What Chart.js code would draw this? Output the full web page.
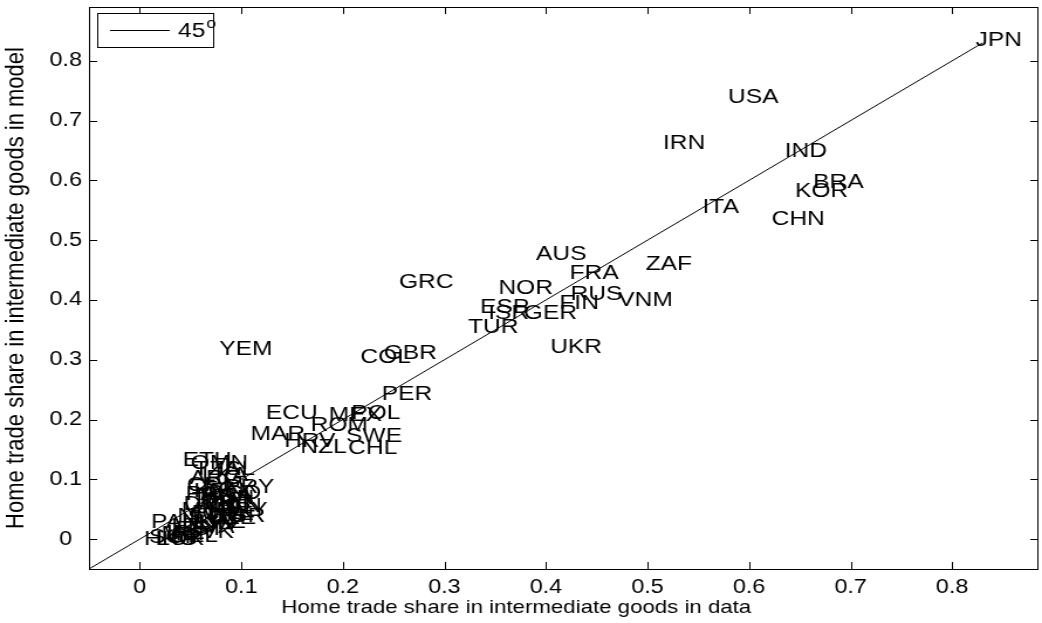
<!DOCTYPE html>
<html>
<head>
<meta charset="utf-8">
<script src="https://cdn.jsdelivr.net/npm/chart.js@4/dist/chart.umd.min.js"></script>
<style>
  html, body { margin: 0; padding: 0; background: #fff; overflow: hidden; }
  #c { display: block; width: 1042px !important; height: 623px !important; }
</style>
</head>
<body>
<canvas id="c" width="890" height="623"></canvas>
<script>
// ---- data ----
const countries = [
  'JPN','USA','IRN','IND','BRA','KOR','ITA','CHN','AUS','ZAF','FRA','GRC','NOR','RUS','FIN','VNM',
  'ESP','ISR','GER','TUR','UKR','YEM','COL','GBR','PER','ECU','MEX','POL','ROM','MAR','SWE','HRV','NZL','CHL',
  'ETH','OMN','TZA','ISL','ARG','LKA','CRI','PRY','KEN','EGY','PAK','NGA','BGD','IDN','THA','PRT','DNK','AUT',
  'CAN','URY','MYS','PHL','CHE','NLD','SVN','KAZ','CZE','BGR','HUN','LTU','LVA','EST','SVK','IRL','BEL','PAN',
  'MLT','SGP','LUX','HKG'
];
const dataShare = [
  0.822,0.578,0.514,0.634,0.662,0.644,0.553,0.621,0.389,0.497,0.422,0.254,0.352,0.423,0.412,0.470,
  0.334,0.342,0.377,0.322,0.403,0.077,0.216,0.239,0.237,0.123,0.185,0.207,0.167,0.108,0.202,0.141,0.157,0.204,
  0.041,0.049,0.052,0.076,0.048,0.060,0.045,0.082,0.052,0.060,0.044,0.058,0.066,0.070,0.050,0.062,0.042,0.055,
  0.068,0.074,0.040,0.050,0.060,0.036,0.046,0.056,0.065,0.070,0.040,0.030,0.050,0.035,0.043,0.025,0.030,0.010,
  0.020,0.008,0.015,0.003
];
const modelShare = [
  0.836,0.740,0.664,0.651,0.598,0.584,0.556,0.536,0.479,0.462,0.446,0.431,0.421,0.412,0.397,0.401,
  0.389,0.379,0.379,0.356,0.322,0.319,0.306,0.312,0.244,0.212,0.209,0.212,0.192,0.177,0.174,0.165,0.155,0.154,
  0.133,0.128,0.119,0.118,0.104,0.108,0.092,0.088,0.082,0.085,0.076,0.074,0.078,0.070,0.066,0.062,0.060,0.055,
  0.056,0.050,0.050,0.045,0.043,0.040,0.036,0.030,0.036,0.040,0.028,0.024,0.022,0.018,0.014,0.012,0.006,0.030,
  0.010,0.005,0.002,0.002
];
const lineEnds = [-0.05, 0.83];          // 45-degree reference line
const xTicks = [0, 0.1, 0.2, 0.3, 0.4, 0.5, 0.6, 0.7, 0.8];
const yTicks = [0, 0.1, 0.2, 0.3, 0.4, 0.5, 0.6, 0.7, 0.8];
const xTitle = 'Home trade share in intermediate goods in data';
const yTitle = 'Home trade share in intermediate goods in model';
const legendLabel = '45';

const FONT = "'Liberation Sans', Arial, Helvetica, sans-serif";

const points = countries.map((c, i) => ({ x: dataShare[i], y: modelShare[i], name: c }));

const framePlugin = {
  id: 'frame',
  afterDatasetsDraw(chart) {
    const ctx = chart.ctx;
    const { left, right, top, bottom } = chart.chartArea;
    const xs = chart.scales.x, ys = chart.scales.y;
    ctx.save();
    // country labels
    ctx.fillStyle = '#000';
    ctx.font = '21px ' + FONT;
    ctx.textAlign = 'left';
    ctx.textBaseline = 'middle';
    points.forEach(p => {
      ctx.fillText(p.name, xs.getPixelForValue(p.x) + 1, ys.getPixelForValue(p.y) + 1);
    });
    // box
    ctx.strokeStyle = '#000';
    ctx.lineWidth = 1;
    ctx.strokeRect(Math.round(left) + 0.5, Math.round(top) + 0.5, Math.round(right - left) - 1, Math.round(bottom - top));
    // inward ticks
    ctx.beginPath();
    xTicks.forEach(v => {
      const px = Math.round(xs.getPixelForValue(v)) + 0.5;
      ctx.moveTo(px, bottom); ctx.lineTo(px, bottom - 7);
      ctx.moveTo(px, top); ctx.lineTo(px, top + 7);
    });
    yTicks.forEach(v => {
      const py = Math.round(ys.getPixelForValue(v)) + 0.5;
      ctx.moveTo(left, py); ctx.lineTo(left + 7, py);
      ctx.moveTo(right, py); ctx.lineTo(right - 7, py);
    });
    ctx.stroke();
    // x-axis title
    ctx.font = '19px ' + FONT;
    ctx.textAlign = 'center';
    ctx.textBaseline = 'middle';
    ctx.fillText(xTitle, 441, 608);
    // legend box
    const lx = 83, ly = 13, lw = 99, lh = 34;
    ctx.fillStyle = '#fff';
    ctx.fillRect(lx, ly, lw, lh);
    ctx.strokeRect(lx + 0.5, ly + 0.5, lw, lh);
    ctx.beginPath();
    ctx.moveTo(94, ly + lh / 2 + 0.5); ctx.lineTo(145, ly + lh / 2 + 0.5);
    ctx.stroke();
    ctx.fillStyle = '#000';
    ctx.textAlign = 'left';
    ctx.font = '21px ' + FONT;
    ctx.fillText(legendLabel, 152, ly + lh / 2 + 1);
    const w45 = ctx.measureText(legendLabel).width;
    ctx.font = '15px ' + FONT;
    ctx.fillText('o', 152 + w45 + 1, ly + lh / 2 - 6);
    ctx.restore();
  }
};

const chart = new Chart(document.getElementById('c'), {
  type: 'scatter',
  data: {
    datasets: [
      {
        label: 'countries',
        data: points,
        pointRadius: 0,
        pointHoverRadius: 0,
        showLine: false
      },
      {
        label: '45',
        type: 'line',
        data: lineEnds.map(v => ({ x: v, y: v })),
        borderColor: '#000',
        borderWidth: 1,
        pointRadius: 0,
        fill: false
      }
    ]
  },
  options: {
    responsive: false,
    animation: false,
    devicePixelRatio: 1,
    layout: { padding: { top: 7, right: 3, left: 0, bottom: 0 } },
    plugins: { legend: { display: false }, tooltip: { enabled: false } },
    events: [],
    scales: {
      x: {
        type: 'linear',
        min: -0.05, max: 0.885,
        afterBuildTicks: s => { s.ticks = xTicks.map(v => ({ value: v })); },
        afterFit: s => { s.height = 54; s.paddingLeft = 0; s.paddingRight = 0; },
        grid: { display: false, drawTicks: false },
        border: { display: false },
        ticks: {
          color: '#000', padding: 6, maxRotation: 0,
          font: { family: FONT, size: 20 },
          callback: v => String(+Number(v).toFixed(1))
        },
        title: { display: false, text: xTitle }
      },
      y: {
        type: 'linear',
        min: -0.05, max: 0.89,
        afterBuildTicks: s => { s.ticks = yTicks.map(v => ({ value: v })); },
        afterFit: s => { s.width = 76; s.paddingTop = 0; s.paddingBottom = 0; },
        grid: { display: false, drawTicks: false },
        border: { display: false },
        ticks: {
          color: '#000', padding: 6, crossAlign: 'center',
          font: { family: FONT, size: 20 },
          callback: v => String(+Number(v).toFixed(1))
        },
        title: {
          display: true, text: yTitle, color: '#000',
          font: { family: FONT, size: 22 }, padding: { top: 1, bottom: 0 }
        }
      }
    }
  },
  plugins: [framePlugin]
});
chart.canvas.style.width = '1042px';
chart.canvas.style.height = '623px';
</script>
</body>
</html>
